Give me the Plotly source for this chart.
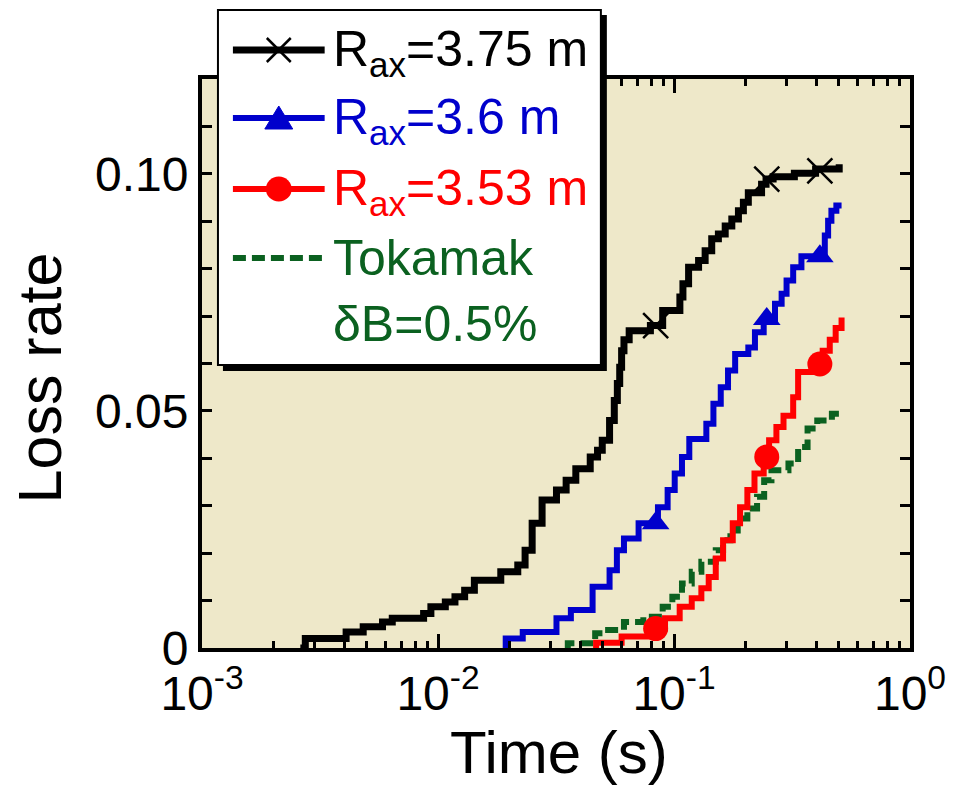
import plotly.graph_objects as go

# ---------------- data ----------------
black_t = [0.00261, 0.00274, 0.00408, 0.00482, 0.00582, 0.0064, 0.00869, 0.00933,
           0.01074, 0.0118, 0.01297, 0.01426, 0.01845, 0.02178, 0.02339, 0.02506,
           0.02761, 0.03177, 0.03491, 0.03837, 0.04416, 0.04742, 0.04966, 0.05333,
           0.05585, 0.05754, 0.05888, 0.05998, 0.06138, 0.06457, 0.07943, 0.08954,
           0.1059, 0.1091, 0.1153, 0.1271, 0.1355, 0.1445, 0.1542, 0.1648, 0.1758,
           0.1875, 0.1968, 0.2065, 0.2350, 0.2455, 0.2630, 0.3236, 0.3981, 0.5012]
black_y = [0.0, 0.0020, 0.0034, 0.0045, 0.0055, 0.0063, 0.0073, 0.0087,
           0.0097, 0.0108, 0.0122, 0.0143, 0.0161, 0.0175, 0.0206, 0.0263,
           0.0312, 0.0333, 0.0354, 0.0378, 0.0403, 0.0417, 0.0438, 0.0480,
           0.0522, 0.0558, 0.0592, 0.0627, 0.0650, 0.0669, 0.0680, 0.0712,
           0.0740, 0.0768, 0.0803, 0.0817, 0.0838, 0.0863, 0.0873, 0.0890, 0.0905,
           0.0922, 0.0940, 0.0960, 0.0978, 0.0989, 0.0994, 0.1001, 0.1010, 0.1020]

blue_t = [0.01892, 0.01936, 0.02286, 0.03177, 0.03656, 0.04519, 0.05333, 0.05728,
          0.06138, 0.07079, 0.08551, 0.09397, 0.1007, 0.1081, 0.1161, 0.1371,
          0.1469, 0.1578, 0.1694, 0.1816, 0.2065, 0.2203, 0.2399, 0.2679, 0.2858,
          0.2999, 0.3199, 0.3467, 0.4355, 0.4498, 0.4645, 0.4875, 0.5129]
blue_y = [0.0, 0.0020, 0.0034, 0.0063, 0.0080, 0.0129, 0.0164, 0.0206,
          0.0231, 0.0263, 0.0297, 0.0333, 0.0368, 0.0403, 0.0441, 0.0473,
          0.0515, 0.0550, 0.0585, 0.0620, 0.0634, 0.0666, 0.0690, 0.0726, 0.0747,
          0.0775, 0.0803, 0.0826, 0.0870, 0.0901, 0.0922, 0.0933, 0.0933]

red_t = [0.04634, 0.04677, 0.05998, 0.07943, 0.09162, 0.1057, 0.1189, 0.1306,
         0.1403, 0.1503, 0.1614, 0.1774, 0.1905, 0.2046, 0.2193, 0.2399, 0.2529,
         0.2716, 0.2911, 0.3199, 0.3357, 0.3981, 0.4266, 0.4571, 0.4842, 0.5129]
red_y = [0.0, 0.0011, 0.0024, 0.0041, 0.0063, 0.0087, 0.0105, 0.0126,
         0.0150, 0.0189, 0.0227, 0.0263, 0.0297, 0.0333, 0.0368, 0.0403, 0.0438,
         0.0466, 0.0490, 0.0529, 0.0582, 0.0599, 0.0627, 0.0650, 0.0675, 0.0697]

green_t = [0.03491, 0.03548, 0.04634, 0.05093, 0.06138, 0.07413, 0.08954, 0.0984,
           0.1081, 0.1189, 0.1306, 0.1503, 0.1614, 0.1734, 0.1862, 0.2046, 0.2249,
           0.2410, 0.2588, 0.3055, 0.3357, 0.3681, 0.4046, 0.4667, 0.5129]
green_y = [0.0, 0.0010, 0.0031, 0.0038, 0.0055, 0.0066, 0.0087, 0.0108,
           0.0136, 0.0161, 0.0182, 0.0206, 0.0227, 0.0248, 0.0273, 0.0294, 0.0319,
           0.0354, 0.0375, 0.0389, 0.0424, 0.0463, 0.0480, 0.0494, 0.0494]

marker_t = [0.0836, 0.2472, 0.4150]
black_marker_y = [0.0680, 0.0989, 0.1006]
blue_marker_y = [0.0263, 0.0694, 0.0826]
red_marker_y = [0.0041, 0.0403, 0.0599]

legend_labels = ["R<sub>ax</sub>=3.75 m", "R<sub>ax</sub>=3.6 m",
                 "R<sub>ax</sub>=3.53 m", "Tokamak", "δB=0.5%"]

x_title = "Time (s)"
y_title = "Loss rate"
x_tickvals = [0.001, 0.01, 0.1, 1]
x_ticktext = ["10<sup>-3</sup>", "10<sup>-2</sup>", "10<sup>-1</sup>", "10<sup>0</sup>"]
x_minor = [m * d for d in (0.001, 0.01, 0.1) for m in range(2, 10)]
y_tickvals = [0, 0.05, 0.10]
y_ticktext = ["0", "0.05", "0.10"]

# ---------------- style ----------------
BLACK = "#000000"
BLUE = "#0000CC"
RED = "#FF0000"
GREEN = "#0B6120"
BG = "#EEE8C9"
FONT = "Liberation Sans, Arial, sans-serif"

OFF = 8                      # page body margin
W, H = 958 - OFF, 787 - OFF
L, R, T, B = 202, 912, 79, 648  # plot area in window pixels


def px(x):
    return (x - L) / (R - L)


def py(y):
    return (B - y) / (B - T)


fig = go.Figure()

fig.add_trace(go.Scatter(x=green_t, y=green_y, mode="lines", line_shape="hv",
                         line=dict(color=GREEN, width=6, dash="13px,6px"),
                         showlegend=False))
fig.add_trace(go.Scatter(x=red_t, y=red_y, mode="lines", line_shape="hv",
                         line=dict(color=RED, width=6), showlegend=False))
fig.add_trace(go.Scatter(x=blue_t, y=blue_y, mode="lines", line_shape="hv",
                         line=dict(color=BLUE, width=6), showlegend=False))
fig.add_trace(go.Scatter(x=black_t, y=black_y, mode="lines", line_shape="hv",
                         line=dict(color=BLACK, width=7), showlegend=False))

fig.add_trace(go.Scatter(x=marker_t, y=red_marker_y, mode="markers",
                         marker=dict(symbol="circle", size=25, color=RED),
                         showlegend=False))
fig.add_trace(go.Scatter(x=marker_t, y=blue_marker_y, mode="markers",
                         marker=dict(symbol="triangle-up", size=24, color=BLUE),
                         showlegend=False))
fig.add_trace(go.Scatter(x=marker_t, y=black_marker_y, mode="markers",
                         marker=dict(symbol="x-thin-open", size=25, color=BLACK,
                                     line=dict(color=BLACK, width=2.5)),
                         showlegend=False))

# ---------------- manual legend ----------------
shapes = []
shapes.append(dict(type="rect", xref="paper", yref="paper",
                   x0=px(223), x1=px(608), y0=py(15), y1=py(371),
                   fillcolor="black", line=dict(width=0), layer="above"))
shapes.append(dict(type="rect", xref="paper", yref="paper",
                   x0=px(218), x1=px(602), y0=py(10), y1=py(365),
                   fillcolor="white", line=dict(color="black", width=2), layer="above"))

rows_y = [50, 118, 189, 258]
row_cols = [BLACK, BLUE, RED, GREEN]
row_w = [7, 6, 6, 6]
row_dash = ["solid", "solid", "solid", "13px,6px"]
for yy, c, w, d in zip(rows_y, row_cols, row_w, row_dash):
    shapes.append(dict(type="line", xref="paper", yref="paper",
                       x0=px(233), x1=px(325), y0=py(yy), y1=py(yy),
                       line=dict(color=c, width=w, dash=d), layer="above"))
cx = 279
for s in (1, -1):
    shapes.append(dict(type="line", xref="paper", yref="paper",
                       x0=px(cx - 12), x1=px(cx + 12),
                       y0=py(rows_y[0] - 12 * s), y1=py(rows_y[0] + 12 * s),
                       line=dict(color=BLACK, width=2.5), layer="above"))
ty = rows_y[1]
shapes.append(dict(type="path", xref="paper", yref="paper",
                   path=f"M {px(cx - 14)} {py(ty + 11)} L {px(cx + 14)} {py(ty + 11)} "
                        f"L {px(cx)} {py(ty - 12)} Z",
                   fillcolor=BLUE, line=dict(color=BLUE, width=1), layer="above"))
cy = rows_y[2]
shapes.append(dict(type="circle", xref="paper", yref="paper",
                   x0=px(cx - 13), x1=px(cx + 13), y0=py(cy + 12.5), y1=py(cy - 12.5),
                   fillcolor=RED, line=dict(color=RED, width=0), layer="above"))

annotations = []
text_y = [52, 120, 191, 258, 324]
text_cols = [BLACK, BLUE, RED, GREEN, GREEN]
for lab, yy, c in zip(legend_labels, text_y, text_cols):
    annotations.append(dict(text=lab, xref="paper", yref="paper",
                            x=px(331), y=py(yy), xanchor="left", yanchor="middle",
                            showarrow=False, font=dict(size=50, color=c, family=FONT)))
# axis titles
annotations.append(dict(text=x_title, xref="paper", yref="paper", x=px(560), y=py(752),
                        xanchor="center", yanchor="middle", showarrow=False,
                        font=dict(size=60, color="black", family=FONT)))
annotations.append(dict(text=y_title, xref="paper", yref="paper", x=px(40), y=py(378),
                        xanchor="center", yanchor="middle", showarrow=False, textangle=-90,
                        font=dict(size=61, color="black", family=FONT)))

axis_common = dict(showline=True, linecolor="black", linewidth=4, mirror="allticks",
                   ticks="inside", tickcolor="black", tickwidth=3,
                   showgrid=False, zeroline=False)

fig.update_layout(
    width=W, height=H, autosize=False,
    margin=dict(l=L - OFF, r=W - (R - OFF), t=T - OFF, b=H - (B - OFF), pad=0),
    paper_bgcolor="white", plot_bgcolor=BG,
    font=dict(family=FONT, color="black"),
    shapes=shapes, annotations=annotations,
    xaxis=dict(type="log", range=[-3, 0], tickmode="array", tickvals=x_tickvals,
               ticktext=x_ticktext, ticklen=14,
               minor=dict(tickmode="array", tickvals=x_minor, ticks="inside",
                          ticklen=7, tickwidth=3, tickcolor="black"),
               tickfont=dict(size=48), **axis_common),
    yaxis=dict(range=[0, 0.12], tickmode="array", tickvals=y_tickvals,
               ticktext=y_ticktext, ticklen=10,
               minor=dict(dtick=0.01, tick0=0, ticks="inside", ticklen=10,
                          tickwidth=3, tickcolor="black"),
               tickfont=dict(size=48), **axis_common),
)

fig.write_html("out.html")
